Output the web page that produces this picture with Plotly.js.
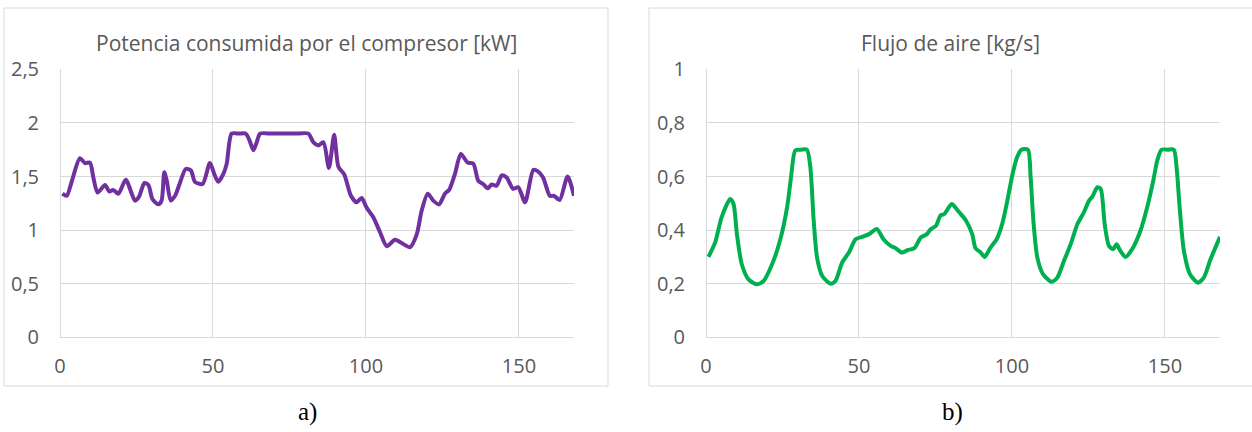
<!DOCTYPE html>
<html>
<head>
<meta charset="utf-8">
<script src="https://cdn.plot.ly/plotly-3.0.1.min.js"></script>
<style>
  html, body { margin: 0; padding: 0; background: #ffffff; }
  #chart { width: 1252px; height: 432px; }
</style>
</head>
<body>
<div id="chart"></div>
<script>
// ---- Data ----
const powerTitle = "Potencia consumida por el compresor [kW]";
const airTitle = "Flujo de aire [kg/s]";
const panelLabels = ["a)", "b)"];

const powerHours = [0.8, 2.2, 3.8, 6.5, 8.2, 9.8, 10.9, 12.3, 14.7, 16.1, 17.4, 19.1, 21.5, 24.5, 25.8, 27.6, 28.9, 30.2, 32.1, 33.2, 34.1, 34.9, 36.2, 37.6, 38.9, 41.1, 42.8, 44.1, 46.6, 49.0, 50.4, 51.7, 53.4, 54.5, 56.1, 58.5, 60.7, 61.9, 63.2, 64.3, 65.4, 69.0, 73.0, 77.0, 81.2, 82.8, 84.5, 86.1, 87.9, 89.6, 91.0, 92.9, 95.1, 96.9, 98.6, 100.2, 102.4, 104.6, 106.8, 109.5, 112.2, 114.4, 116.6, 118.2, 120.2, 122.0, 123.9, 125.8, 127.2, 129.1, 131.0, 133.2, 135.1, 136.7, 138.3, 139.8, 141.1, 142.7, 144.4, 146.0, 148.1, 149.8, 152.0, 154.7, 156.1, 157.9, 160.1, 161.5, 163.3, 165.9, 168.0];
const powerKW = [1.34, 1.32, 1.45, 1.67, 1.625, 1.63, 1.49, 1.35, 1.42, 1.36, 1.375, 1.34, 1.47, 1.275, 1.31, 1.44, 1.42, 1.29, 1.24, 1.275, 1.54, 1.46, 1.275, 1.32, 1.415, 1.57, 1.556, 1.45, 1.43, 1.625, 1.525, 1.45, 1.525, 1.62, 1.9, 1.9, 1.9, 1.84, 1.745, 1.82, 1.9, 1.9, 1.9, 1.9, 1.9, 1.82, 1.79, 1.82, 1.58, 1.89, 1.59, 1.52, 1.32, 1.26, 1.30, 1.21, 1.12, 0.98, 0.85, 0.91, 0.87, 0.84, 0.96, 1.18, 1.34, 1.275, 1.24, 1.34, 1.375, 1.525, 1.71, 1.63, 1.62, 1.46, 1.43, 1.39, 1.425, 1.415, 1.51, 1.49, 1.385, 1.40, 1.26, 1.56, 1.55, 1.49, 1.32, 1.32, 1.28, 1.50, 1.32];

const airHours = [0.8, 3.0, 5.1, 7.9, 9.0, 10.1, 11.7, 13.9, 16.6, 18.8, 21.6, 24.3, 26.5, 27.8, 29.2, 31.1, 33.0, 34.1, 35.2, 36.3, 38.0, 40.7, 42.3, 44.5, 46.7, 48.9, 51.1, 53.3, 55.8, 58.0, 60.4, 62.0, 64.0, 65.9, 68.1, 70.2, 72.2, 73.5, 75.2, 76.6, 77.9, 80.3, 82.3, 85.0, 87.0, 88.1, 89.8, 91.1, 93.0, 95.0, 96.8, 98.5, 100.1, 101.7, 103.1, 105.2, 106.1, 107.0, 108.3, 110.2, 112.9, 114.8, 117.0, 119.2, 121.4, 123.5, 125.2, 126.3, 127.9, 129.0, 130.3, 131.7, 133.1, 134.2, 135.3, 137.1, 139.3, 142.0, 144.2, 146.2, 147.5, 148.9, 150.9, 152.9, 153.8, 154.9, 156.2, 158.2, 160.8, 162.7, 164.9, 168.0];
const airKgS = [0.30, 0.354, 0.4475, 0.516, 0.4975, 0.385, 0.2725, 0.216, 0.1975, 0.21, 0.2725, 0.366, 0.485, 0.5975, 0.6975, 0.70, 0.70, 0.635, 0.435, 0.2975, 0.229, 0.20, 0.21, 0.279, 0.316, 0.366, 0.375, 0.385, 0.404, 0.366, 0.341, 0.3325, 0.316, 0.325, 0.3325, 0.3725, 0.385, 0.404, 0.416, 0.454, 0.46, 0.4975, 0.4725, 0.435, 0.385, 0.3325, 0.316, 0.30, 0.335, 0.366, 0.4225, 0.51, 0.604, 0.6725, 0.70, 0.70, 0.5975, 0.435, 0.2975, 0.235, 0.2075, 0.2225, 0.285, 0.3475, 0.4225, 0.466, 0.51, 0.525, 0.56, 0.554, 0.4225, 0.341, 0.329, 0.3475, 0.325, 0.30, 0.329, 0.3975, 0.485, 0.585, 0.66, 0.70, 0.70, 0.70, 0.635, 0.4725, 0.3225, 0.235, 0.204, 0.2225, 0.291, 0.375];

const xTicks = [0, 50, 100, 150];
const powerTicks = [0, 0.5, 1, 1.5, 2, 2.5];
const airTicks = [0, 0.2, 0.4, 0.6, 0.8, 1];

// ---- Layout helpers (pixel -> paper) ----
const W = 1252, H = 432;
const px = v => v / W;
const py = v => 1 - v / H;

const gridCol = '#d9d9d9';
const textCol = '#595959';
const tickFont = { family: 'Open Sans, sans-serif', size: 20, color: textCol };
const titleFont = { family: 'Open Sans, sans-serif', size: 21, color: textCol };

function xAxis(domain, anchor) {
  return {
    domain: domain, anchor: anchor, range: [0, 168],
    tickvals: xTicks, ticktext: xTicks.map(String),
    showgrid: true, gridcolor: gridCol, gridwidth: 1,
    zeroline: true, zerolinecolor: gridCol, zerolinewidth: 1,
    showline: false, ticks: '', tickfont: tickFont,
    ticklabelstandoff: 15, fixedrange: true
  };
}
function yAxis(domain, anchor, range, ticks) {
  return {
    domain: domain, anchor: anchor, range: range,
    tickvals: ticks, ticktext: ticks.map(t => String(t).replace('.', ',')),
    showgrid: true, gridcolor: gridCol, gridwidth: 1,
    zeroline: true, zerolinecolor: gridCol, zerolinewidth: 1,
    showline: false, ticks: '', tickfont: tickFont,
    ticklabelstandoff: 20, fixedrange: true
  };
}

const yDom = [py(337.3), py(69.3)];

const traces = [
  {
    x: powerHours, y: powerKW, xaxis: 'x', yaxis: 'y',
    type: 'scatter', mode: 'lines',
    line: { color: '#7030A0', width: 4, shape: 'spline', smoothing: 0.7 },
    hoverinfo: 'skip', showlegend: false
  },
  {
    x: airHours, y: airKgS, xaxis: 'x2', yaxis: 'y2',
    type: 'scatter', mode: 'lines',
    line: { color: '#00B050', width: 4, shape: 'spline', smoothing: 0.7 },
    hoverinfo: 'skip', showlegend: false
  }
];

const layout = {
  width: W, height: H,
  margin: { l: 0, r: 0, t: 0, b: 0 },
  paper_bgcolor: '#ffffff', plot_bgcolor: '#ffffff',
  separators: ', ',
  showlegend: false,
  xaxis: xAxis([px(60), px(574)], 'y'),
  yaxis: yAxis(yDom, 'x', [0, 2.5], powerTicks),
  xaxis2: xAxis([px(706), px(1220)], 'y2'),
  yaxis2: yAxis(yDom, 'x2', [0, 1], airTicks),
  shapes: [
    { type: 'rect', xref: 'paper', yref: 'paper', x0: px(4), x1: px(608), y0: py(386), y1: py(8),
      line: { color: gridCol, width: 1 }, fillcolor: 'rgba(0,0,0,0)', layer: 'below' },
    { type: 'rect', xref: 'paper', yref: 'paper', x0: px(649), x1: px(1262), y0: py(386), y1: py(8),
      line: { color: gridCol, width: 1 }, fillcolor: 'rgba(0,0,0,0)', layer: 'below' }
  ],
  annotations: [
    { text: powerTitle, xref: 'paper', yref: 'paper', x: px(306), y: py(43),
      xanchor: 'center', yanchor: 'middle', showarrow: false, font: titleFont },
    { text: airTitle, xref: 'paper', yref: 'paper', x: px(950), y: py(43),
      xanchor: 'center', yanchor: 'middle', showarrow: false, font: titleFont },
    { text: panelLabels[0], xref: 'paper', yref: 'paper', x: px(307), y: py(412),
      xanchor: 'center', yanchor: 'middle', showarrow: false,
      font: { family: 'Liberation Serif, serif', size: 25, color: '#000000' } },
    { text: panelLabels[1], xref: 'paper', yref: 'paper', x: px(952), y: py(412),
      xanchor: 'center', yanchor: 'middle', showarrow: false,
      font: { family: 'Liberation Serif, serif', size: 25, color: '#000000' } }
  ]
};

Plotly.newPlot('chart', traces, layout, { staticPlot: true, displayModeBar: false });
</script>
</body>
</html>
